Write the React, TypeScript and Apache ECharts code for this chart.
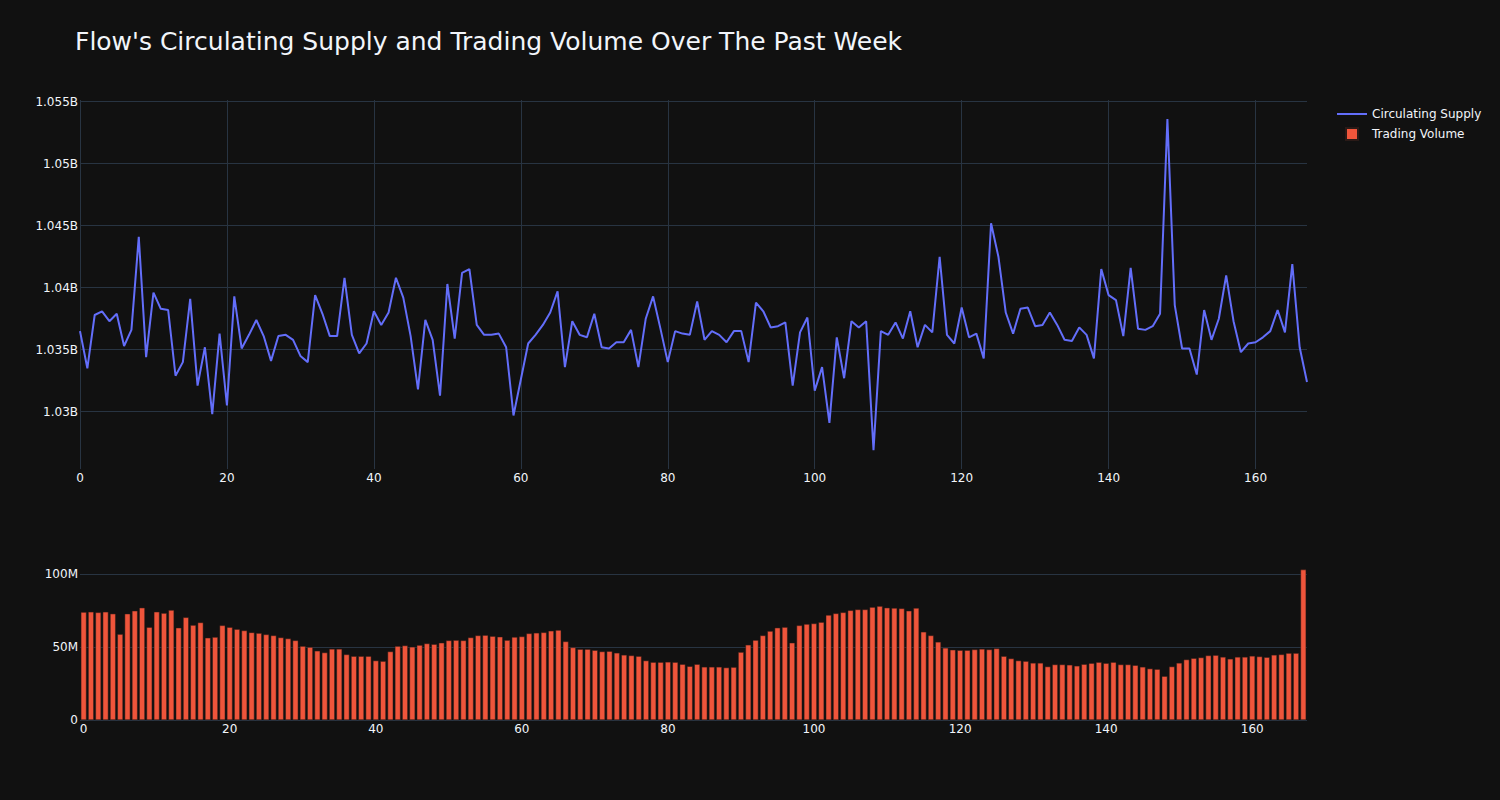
import React, { useEffect, useRef } from "react";
import * as echarts from "echarts";

const TITLE = "Flow's Circulating Supply and Trading Volume Over The Past Week";

// Circulating supply, in billions, hourly points 0..167
const supply = [
  1.0365, 1.0335, 1.0378, 1.0381, 1.0373, 1.0379, 1.0353, 1.0366, 1.0441, 1.0344,
  1.0396, 1.0383, 1.0382, 1.0329, 1.034, 1.0391, 1.0321, 1.0352, 1.0298, 1.0363,
  1.0305, 1.0393, 1.0351, 1.0362, 1.0374, 1.0361, 1.0341, 1.0361, 1.0362, 1.0358,
  1.0345, 1.034, 1.0394, 1.0379, 1.0361, 1.0361, 1.0408, 1.0362, 1.0347, 1.0355,
  1.0381, 1.037, 1.038, 1.0408, 1.0392, 1.0361, 1.0318, 1.0374, 1.0358, 1.0313,
  1.0403, 1.0359, 1.0412, 1.0415, 1.037, 1.0362, 1.0362, 1.0363, 1.0352, 1.0297,
  1.0326, 1.0355, 1.0362, 1.037, 1.038, 1.0397, 1.0336, 1.0373, 1.0362, 1.036,
  1.0379, 1.0352, 1.0351, 1.0356, 1.0356, 1.0366, 1.0336, 1.0375, 1.0393, 1.0367,
  1.034, 1.0365, 1.0363, 1.0362, 1.0389, 1.0358, 1.0365, 1.0362, 1.0356, 1.0365,
  1.0365, 1.034, 1.0388, 1.0381, 1.0368, 1.0369, 1.0372, 1.0321, 1.0364, 1.0376,
  1.0317, 1.0336, 1.0291, 1.036, 1.0327, 1.0373, 1.0368, 1.0373, 1.0269, 1.0365,
  1.0362, 1.0372, 1.0359, 1.0381, 1.0352, 1.037, 1.0364, 1.0425, 1.0362, 1.0355,
  1.0384, 1.036, 1.0363, 1.0343, 1.0452, 1.0425, 1.038, 1.0363, 1.0383, 1.0384,
  1.0369, 1.037, 1.038, 1.037, 1.0358, 1.0357, 1.0368, 1.0362, 1.0343, 1.0415,
  1.0394, 1.039, 1.0361, 1.0416, 1.0367, 1.0366, 1.0369, 1.0379, 1.0536, 1.0386,
  1.0351, 1.0351, 1.033, 1.0382, 1.0358, 1.0375, 1.041, 1.0373, 1.0348, 1.0355,
  1.0356, 1.036, 1.0365, 1.0382, 1.0364, 1.0419, 1.0352, 1.0324,
];

// Trading volume, in millions
const volume = [
  73.9, 74.1, 73.7, 74.1, 72.8, 58.8, 72.8, 74.8, 76.9, 63.6,
  74.1, 73.2, 75.3, 63.2, 70.3, 65.0, 66.8, 56.3, 56.8, 64.8,
  63.6, 62.2, 61.3, 60.0, 59.5, 58.6, 57.9, 56.5, 55.8, 54.5,
  50.6, 49.9, 47.4, 46.2, 48.7, 48.7, 44.9, 43.7, 43.7, 43.7,
  40.7, 40.3, 46.9, 50.6, 51.0, 50.1, 51.3, 52.4, 51.9, 52.9,
  54.5, 54.7, 54.5, 56.5, 57.9, 58.1, 57.4, 57.0, 54.7, 56.8,
  57.2, 59.3, 59.7, 60.0, 61.1, 61.6, 53.8, 49.7, 48.5, 48.5,
  47.8, 46.9, 47.1, 46.0, 44.6, 44.2, 43.7, 40.7, 39.6, 39.6,
  39.8, 39.6, 38.2, 36.8, 38.2, 36.4, 36.4, 36.4, 35.9, 36.2,
  46.5, 51.5, 54.7, 57.9, 60.9, 63.2, 63.6, 52.9, 64.8, 65.7,
  66.1, 67.0, 71.9, 73.0, 73.7, 75.1, 75.7, 75.7, 77.3, 78.0,
  76.9, 76.7, 76.4, 74.8, 76.7, 60.4, 57.9, 53.5, 49.4, 48.1,
  47.8, 47.8, 48.3, 48.7, 48.3, 49.0, 43.7, 42.1, 40.7, 40.3,
  39.1, 39.1, 36.6, 38.0, 38.0, 37.8, 37.1, 38.2, 38.9, 39.6,
  38.9, 39.6, 38.0, 38.0, 37.5, 36.4, 35.2, 34.8, 30.0, 36.6,
  39.1, 41.4, 42.3, 42.8, 44.2, 44.4, 43.2, 41.9, 43.2, 43.2,
  43.9, 43.5, 43.0, 44.6, 44.9, 45.8, 45.8, 103.0,
];

const hours = supply.map((_, i) => i);
const xTicks = [0, 20, 40, 60, 80, 100, 120, 140, 160];
const supplyTicks = [1.03, 1.035, 1.04, 1.045, 1.05, 1.055];
const volumeTicks = [0, 50, 100];

const TEXT = "#f2f5fa";
const GRID = "#283442";
const FONT = "DejaVu Sans";

export default function App() {
  const ref = useRef<HTMLDivElement>(null);

  useEffect(() => {
    if (!ref.current) return;
    const chart = echarts.init(ref.current, undefined, { renderer: "svg" });
    const labelStyle = { color: TEXT, fontSize: 12, fontFamily: FONT };
    chart.setOption({
      animation: false,
      backgroundColor: "#111111",
      textStyle: { fontFamily: FONT },
      title: {
        text: TITLE,
        left: 75,
        top: 29,
        padding: 0,
        textStyle: { color: TEXT, fontSize: 25, fontWeight: "normal", fontFamily: FONT },
      },
      legend: {
        orient: "vertical",
        left: 1337,
        top: 108,
        padding: 0,
        itemWidth: 30,
        itemHeight: 12,
        itemGap: 7,
        textStyle: { color: TEXT, fontSize: 12, fontFamily: FONT },
        data: [
          { name: "Circulating Supply", icon: "path://M0,0H30V2H0Z" },
          { name: "Trading Volume", icon: "path://M0,0H11V11H0Z" },
        ],
      },
      grid: [
        { left: 80, top: 100, width: 1227, height: 369 },
        { left: 80, top: 562, width: 1227, height: 158 },
      ],
      xAxis: [
        {
          type: "value",
          gridIndex: 0,
          min: 0,
          max: 167,
          axisLine: { show: false },
          axisTick: { show: false, customValues: xTicks },
          axisLabel: { ...labelStyle, margin: 3, customValues: xTicks },
          splitLine: { show: true, lineStyle: { color: GRID, width: 1 } },
        },
        {
          type: "category",
          gridIndex: 1,
          data: hours,
          axisLine: { show: false },
          axisTick: { show: false },
          axisLabel: { ...labelStyle, margin: 3, interval: 19 },
          splitLine: { show: false },
        },
      ],
      yAxis: [
        {
          type: "value",
          gridIndex: 0,
          min: 1.02538,
          max: 1.05514,
          axisLine: { show: false },
          axisTick: { show: false, customValues: supplyTicks },
          axisLabel: {
            ...labelStyle,
            margin: 2,
            customValues: supplyTicks,
            formatter: (v: number) => `${parseFloat(v.toFixed(4))}B`,
          },
          splitLine: { show: true, lineStyle: { color: GRID, width: 1 } },
        },
        {
          type: "value",
          gridIndex: 1,
          min: 0,
          max: 108.2,
          axisLine: { show: false },
          axisTick: { show: false, customValues: volumeTicks },
          axisLabel: {
            ...labelStyle,
            margin: 2,
            customValues: volumeTicks,
            formatter: (v: number) => (v === 0 ? "0" : `${v}M`),
          },
          splitLine: { show: true, lineStyle: { color: GRID, width: 1 } },
        },
      ],
      series: [
        {
          name: "Circulating Supply",
          type: "line",
          xAxisIndex: 0,
          yAxisIndex: 0,
          data: supply.map((v, i) => [hours[i], v]),
          showSymbol: false,
          symbol: "none",
          lineStyle: { color: "#636efa", width: 2 },
          itemStyle: { color: "#636efa" },
        },
        {
          name: "Trading Volume",
          type: "bar",
          xAxisIndex: 1,
          yAxisIndex: 1,
          data: volume,
          barCategoryGap: "22%",
          itemStyle: { color: "#ef553b", borderColor: "#2a1a17", borderWidth: 0.5 },
        },
      ],
    });
    return () => chart.dispose();
  }, []);

  return (
    <div
      ref={ref}
      style={{ position: "fixed", left: 0, top: 0, width: 1500, height: 800, background: "#111111" }}
    />
  );
}
